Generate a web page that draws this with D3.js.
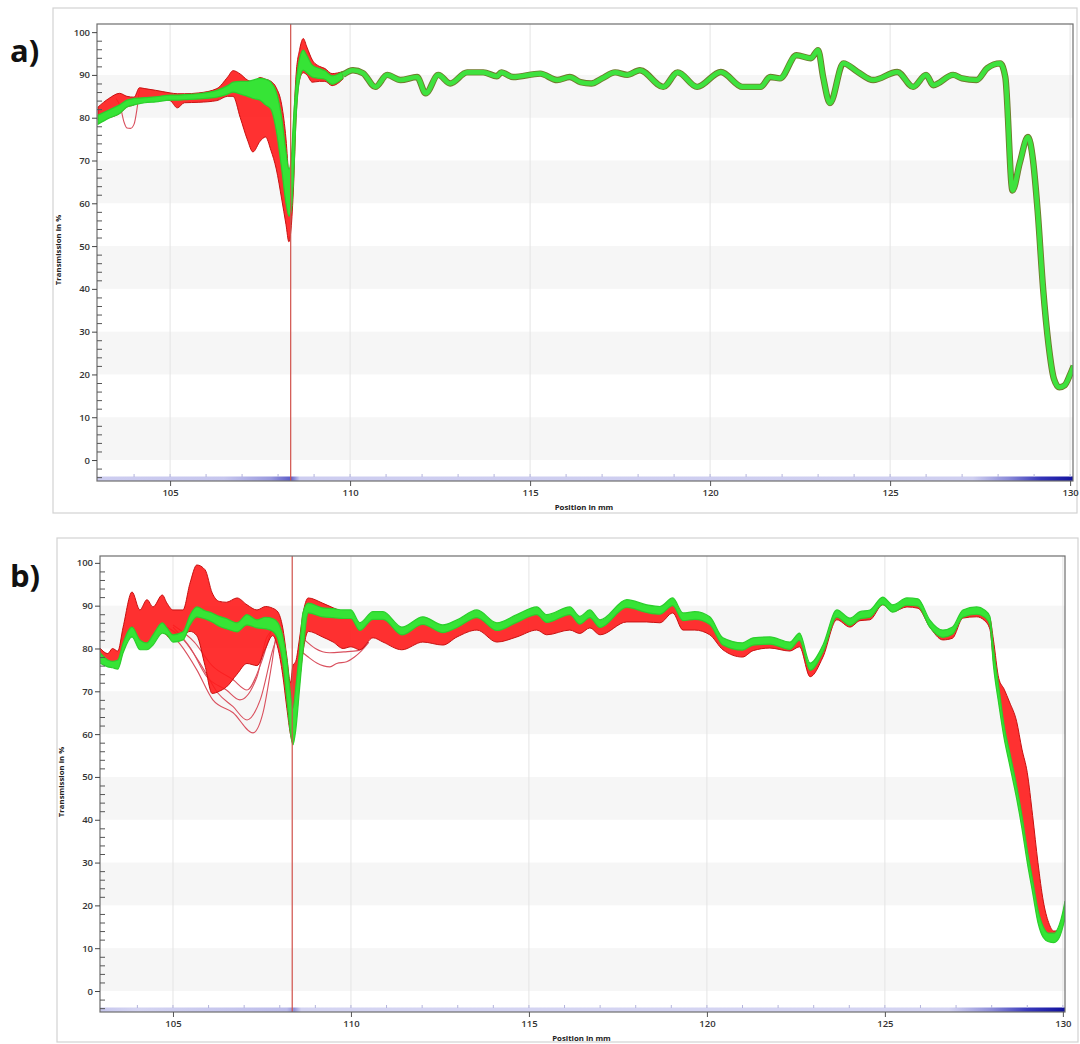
<!DOCTYPE html>
<html>
<head>
<meta charset="utf-8">
<script src="https://cdn.jsdelivr.net/npm/d3@7"></script>
<style>
body { margin: 0; background: #fff; }
text { font-family: "Open Sans", sans-serif; }
</style>
</head>
<body>
<svg id="chart" width="1080" height="1044"></svg>
<script>
// ---------- panel a) : bundle region left of 109.8 mm ----------
const posA      = [103.0, 103.3, 103.6, 103.8, 104.0, 104.15, 104.3, 104.6, 105.0, 105.2, 105.4, 105.8, 106.3, 106.6, 106.75, 106.95, 107.15, 107.3, 107.5, 107.65, 107.8, 107.95, 108.1, 108.22, 108.3, 108.36, 108.43, 108.5, 108.6, 108.7, 108.8, 108.95, 109.15, 109.3, 109.5, 109.8]
const redTopA   = [82.5, 84.5, 85.7, 85.0, 84.8, 87.0, 86.8, 86.4, 85.8, 85.6, 85.6, 85.8, 86.8, 89.5, 91.0, 90.2, 88.8, 88.4, 89.4, 89.0, 88.5, 87.0, 83.0, 75.0, 66.0, 62.0, 78.0, 90.0, 96.0, 98.5, 96.5, 93.5, 92.0, 91.5, 90.3, 90.8]
const redBotA   = [79.5, 80.0, 81.0, 82.5, 83.0, 84.0, 84.3, 84.4, 84.0, 82.3, 83.5, 83.6, 84.0, 85.0, 85.0, 80.0, 74.8, 72.0, 74.5, 75.5, 72.4, 68.0, 61.0, 55.0, 51.0, 54.0, 64.0, 80.0, 89.0, 90.5, 90.0, 88.3, 88.5, 88.5, 87.5, 89.0]
const greenTopA = [80.6, 81.8, 83.0, 84.1, 84.5, 84.6, 84.7, 84.9, 85.3, 85.3, 85.4, 85.6, 86.4, 87.5, 88.3, 88.5, 88.5, 88.8, 89.2, 89.0, 88.3, 86.0, 80.0, 72.0, 68.0, 70.0, 80.0, 88.0, 94.0, 95.8, 94.5, 92.3, 91.5, 91.0, 89.8, 90.8]
const greenBotA = [78.5, 79.9, 81.0, 82.5, 83.0, 83.3, 83.5, 83.7, 84.1, 84.1, 84.2, 84.4, 84.8, 85.5, 86.0, 85.5, 85.0, 84.5, 84.1, 83.0, 82.0, 77.0, 68.0, 60.0, 57.0, 58.0, 66.0, 80.0, 89.0, 91.1, 90.5, 89.5, 89.2, 89.0, 87.8, 89.2]

// panel a) : single narrow trace right of 109.8 mm
const traceAPos = [109.8, 110.08, 110.36, 110.7, 111.03, 111.4, 111.86, 112.1, 112.45, 112.78, 113.25, 113.7, 114.08, 114.2, 114.53, 115.28, 115.75, 116.1, 116.4, 116.7, 117.0, 117.36, 117.7, 118.05, 118.7, 119.1, 119.64, 120.3, 120.9, 121.4, 121.67, 121.94, 122.4, 122.8, 123.0, 123.14, 123.33, 123.7, 124.1, 124.53, 125.2, 125.64, 126.0, 126.2, 126.75, 127.0, 127.4, 127.7, 128.06, 128.2, 128.4, 128.6, 128.83, 128.97, 129.1, 129.25, 129.4, 129.55, 129.7, 129.85, 130.0, 130.1]
const traceA    = [90.0, 91.1, 90.4, 87.2, 90.0, 88.8, 89.5, 85.7, 90.0, 88.0, 90.6, 90.6, 89.7, 90.6, 89.5, 90.3, 88.8, 89.5, 88.3, 88.0, 89.2, 90.6, 90.0, 91.1, 87.2, 90.6, 87.2, 90.7, 87.2, 87.2, 89.5, 89.2, 94.6, 93.9, 95.8, 89.5, 83.4, 92.7, 90.7, 88.8, 90.7, 87.2, 90.0, 87.6, 90.0, 89.2, 88.8, 91.6, 92.7, 89.5, 63.0, 69.4, 75.5, 70.0, 58.0, 40.0, 27.0, 19.0, 17.0, 17.5, 20.0, 22.0]

// panel a) : single red outlier loop
const outlierAPos = [103.5, 103.62, 103.72, 103.8, 103.9, 104.0, 104.08, 104.15]
const outlierA    = [84.5, 82.5, 79.0, 77.6, 77.5, 78.5, 82.0, 86.5]

// ---------- panel b) ----------
const posB      = [102.95, 103.17, 103.3, 103.45, 103.6, 103.85, 104.07, 104.27, 104.44, 104.7, 104.83, 105.0, 105.28, 105.48, 105.67, 105.9, 106.1, 106.3, 106.5, 106.8, 107.08, 107.36, 107.6, 107.8, 107.95, 108.08, 108.2, 108.3, 108.37, 108.45, 108.55, 108.65, 108.8, 109.2, 109.5, 109.78, 110.0, 110.25, 110.62, 110.9, 111.43, 112.02, 112.58, 112.98, 113.54, 114.1, 114.66, 115.22, 115.5, 116.15, 116.43, 116.71, 117.0, 117.75, 118.31, 118.68, 119.04, 119.33, 119.66, 120.08, 120.45, 121.0, 121.3, 121.77, 122.33, 122.6, 122.9, 123.26, 123.65, 124.02, 124.3, 124.58, 124.94, 125.22, 125.62, 125.93, 126.26, 126.63, 126.9, 127.19, 127.58, 127.8, 127.95, 128.05, 128.2, 128.35, 128.5, 128.7, 128.85, 129.0, 129.15, 129.3, 129.45, 129.6, 129.75, 129.9, 130.0, 130.06]
const redTopB   = [80.1, 78.8, 80.0, 79.4, 85.0, 93.2, 89.0, 91.4, 89.7, 92.5, 90.6, 89.0, 89.0, 95.3, 99.5, 98.4, 93.0, 91.0, 90.8, 91.8, 90.2, 89.0, 89.8, 89.4, 88.5, 85.0, 78.0, 72.0, 76.0, 77.0, 82.0, 88.0, 91.8, 90.6, 89.5, 88.5, 87.5, 85.0, 87.5, 87.5, 84.0, 86.4, 84.5, 85.7, 88.0, 85.0, 86.9, 88.7, 86.9, 88.7, 86.5, 88.0, 85.7, 90.4, 89.2, 88.8, 90.8, 87.3, 87.6, 86.4, 81.5, 80.3, 81.5, 81.7, 80.5, 82.6, 75.6, 79.8, 88.0, 86.1, 87.6, 88.0, 91.0, 89.2, 90.8, 90.6, 85.7, 83.3, 84.0, 88.0, 88.7, 88.0, 87.0, 82.0, 73.0, 70.5, 67.5, 63.0, 56.5, 51.0, 41.0, 30.0, 21.0, 16.0, 14.0, 14.5, 16.0, 18.0]
const redBotB   = [77.0, 76.5, 76.5, 76.0, 79.5, 85.0, 81.5, 81.0, 81.5, 84.0, 83.0, 82.0, 83.0, 84.0, 83.0, 76.0, 69.5, 70.0, 71.0, 74.0, 76.5, 76.0, 80.0, 83.0, 80.0, 74.0, 66.0, 60.0, 58.0, 66.0, 72.0, 79.0, 84.0, 82.7, 81.5, 80.0, 80.4, 79.7, 82.5, 81.5, 79.7, 81.5, 80.8, 82.7, 84.3, 81.5, 82.7, 84.3, 83.2, 84.3, 83.5, 84.8, 83.2, 86.2, 86.2, 86.0, 88.3, 84.3, 84.3, 83.2, 79.7, 78.0, 79.5, 80.1, 79.4, 80.4, 73.4, 78.0, 86.7, 85.0, 86.5, 86.7, 90.2, 88.6, 89.7, 89.4, 85.0, 82.0, 82.4, 87.1, 87.4, 86.5, 84.5, 77.0, 68.0, 60.0, 54.0, 46.0, 39.0, 31.0, 24.0, 17.0, 13.5, 12.5, 12.3, 13.5, 15.5, 17.0]
const greenTopB = [79.0, 77.3, 77.0, 77.3, 81.3, 85.0, 82.0, 81.3, 83.2, 86.0, 84.8, 83.2, 83.9, 87.8, 89.7, 88.8, 88.3, 87.5, 87.0, 86.0, 87.9, 86.7, 87.3, 87.0, 86.0, 83.0, 77.3, 69.6, 66.0, 71.0, 79.0, 88.3, 90.6, 89.5, 89.3, 89.0, 89.0, 86.0, 88.6, 88.6, 85.0, 87.4, 85.5, 86.7, 89.0, 86.0, 87.9, 89.7, 87.9, 89.7, 87.5, 89.0, 86.7, 91.4, 90.2, 89.8, 91.8, 88.3, 88.6, 87.4, 82.5, 81.3, 82.5, 82.7, 81.5, 83.6, 76.6, 80.8, 89.0, 87.1, 88.6, 89.0, 92.0, 90.2, 91.8, 91.6, 86.7, 84.3, 85.0, 89.0, 89.7, 89.0, 87.5, 80.0, 71.0, 62.0, 56.0, 48.0, 41.0, 33.0, 26.0, 19.0, 15.0, 13.5, 13.5, 15.5, 18.5, 21.0]
const greenBotB = [76.6, 75.7, 75.5, 75.2, 79.0, 82.7, 79.7, 79.7, 80.8, 83.6, 83.2, 81.5, 82.0, 85.5, 87.4, 86.9, 86.2, 85.2, 84.6, 83.9, 85.5, 84.8, 84.6, 84.0, 82.0, 77.0, 68.0, 60.3, 57.5, 61.0, 70.0, 79.0, 88.3, 87.4, 87.2, 87.0, 87.0, 84.2, 86.8, 86.8, 83.2, 85.6, 83.7, 84.9, 87.2, 84.2, 86.1, 87.9, 86.1, 87.9, 85.7, 87.2, 84.9, 89.6, 88.4, 88.0, 90.0, 86.5, 86.8, 85.6, 80.8, 79.6, 80.8, 81.0, 79.8, 81.9, 74.9, 79.1, 87.3, 85.4, 86.9, 87.3, 90.3, 88.5, 90.1, 89.9, 85.0, 82.6, 83.3, 87.3, 88.0, 87.3, 85.5, 76.0, 67.0, 59.0, 53.0, 45.0, 38.0, 30.0, 23.0, 16.0, 12.5, 11.5, 11.3, 12.5, 15.0, 17.0]

// panel b) : thin outlier curves below the bundle
const outlierB1Pos = [104.83, 105.2, 105.67, 106.12, 106.69, 107.25, 107.53, 107.78, 107.92, 108.05]
const outlierB1    = [84.3, 81.0, 75.0, 68.0, 65.0, 60.3, 65.0, 76.6, 83.6, 84.5]
const outlierB2Pos = [104.83, 105.3, 105.8, 106.26, 106.69, 107.08, 107.45, 107.83, 108.0]
const outlierB2    = [85.0, 82.0, 76.0, 69.6, 66.4, 63.3, 68.0, 80.4, 84.0]
const outlierB3Pos = [105.0, 105.5, 105.95, 106.5, 106.88, 107.36, 107.64, 107.95]
const outlierB3    = [85.0, 80.0, 73.4, 70.3, 68.0, 73.4, 82.7, 85.0]
const outlierB4Pos = [105.0, 105.6, 106.1, 106.69, 107.08, 107.45, 107.75]
const outlierB4    = [85.5, 81.5, 76.0, 72.7, 70.3, 76.0, 84.0]
const outlierB5Pos = [108.65, 108.8, 109.04, 109.41, 109.6, 109.88, 110.1, 110.3, 110.5]
const outlierB5    = [79.0, 78.0, 76.6, 75.7, 76.5, 76.9, 78.0, 79.5, 81.5]
const outlierB6Pos = [108.7, 109.0, 109.4, 109.8, 110.2, 110.5]
const outlierB6    = [82.0, 80.0, 79.0, 79.2, 79.5, 81.5]

// axes
const xTicks = [105, 110, 115, 120, 125, 130]
const yTicks = [0, 10, 20, 30, 40, 50, 60, 70, 80, 90, 100]
const grayBands = [0, 20, 40, 60, 80]
const cursorPos = 108.35

// colour strip under each plot (position in mm, colour)
const stripA = [[103, '#cdcdf0'], [106.5, '#c6c6ee'], [107.8, '#9a9ade'], [108.35, '#5c5cc8'], [108.6, '#cdcdf0'], [127.3, '#cfcff0'], [128.3, '#8a8ad8'], [129.2, '#3434b8'], [130.1, '#12129e']]
const stripB = [[103, '#c8c8ee'], [104, '#d4d4f2'], [108.2, '#bcbcea'], [108.4, '#9090d8'], [108.6, '#d4d4f2'], [126.8, '#d4d4f2'], [128, '#8e8ed8'], [129, '#3a3abc'], [130.1, '#10109c']]

const svg = d3.select('#chart')

const panels = [
	{
		id: 'a', label: 'a)', labelY: 62,
		frame: [53, 8, 1077, 513], plot: [97, 24, 1073, 481],
		xDom: [102.97, 130.08], yDom: [-4.9, 101.9],
		pos: posA, redTop: redTopA, redBot: redBotA, greenTop: greenTopA, greenBot: greenBotA,
		trace: d3.zip(traceAPos, traceA),
		outliers: [d3.zip(outlierAPos, outlierA)],
		strip: stripA, yTitle: 250
	},
	{
		id: 'b', label: 'b)', labelY: 587,
		frame: [57, 538, 1078, 1042], plot: [100, 556, 1065, 1012],
		xDom: [102.95, 130.06], yDom: [-4.9, 101.6],
		pos: posB, redTop: redTopB, redBot: redBotB, greenTop: greenTopB, greenBot: greenBotB,
		trace: null,
		outliers: [
			d3.zip(outlierB1Pos, outlierB1), d3.zip(outlierB2Pos, outlierB2), d3.zip(outlierB3Pos, outlierB3),
			d3.zip(outlierB4Pos, outlierB4), d3.zip(outlierB5Pos, outlierB5), d3.zip(outlierB6Pos, outlierB6)
		],
		strip: stripB, yTitle: 782
	}
]

panels.forEach(p => {
	const [L, T, R, B] = p.plot
	const x = d3.scaleLinear().domain(p.xDom).range([L, R])
	const y = d3.scaleLinear().domain(p.yDom).range([B, T])
	const g = svg.append('g')

	// outer frame
	g.append('rect')
		.attr('x', p.frame[0]).attr('y', p.frame[1])
		.attr('width', p.frame[2] - p.frame[0]).attr('height', p.frame[3] - p.frame[1])
		.attr('fill', 'none').attr('stroke', '#d2d2d2').attr('stroke-width', 1.2)

	// panel letter
	g.append('text')
		.attr('x', 10).attr('y', p.labelY)
		.attr('font-family', '"Liberation Sans", Arial, sans-serif')
		.attr('font-weight', 'bold').attr('font-size', 31)
		.attr('fill', '#111')
		.text(p.label)

	// alternating bands
	g.selectAll('rect.band')
		.data(grayBands)
		.enter()
		.append('rect')
		.attr('class', 'band')
		.attr('x', L).attr('width', R - L)
		.attr('y', d => y(d + 10))
		.attr('height', d => y(d) - y(d + 10))
		.attr('fill', '#f6f6f6')

	// vertical grid
	g.selectAll('line.vgrid')
		.data(xTicks)
		.enter()
		.append('line')
		.attr('class', 'vgrid')
		.attr('x1', d => x(d)).attr('x2', d => x(d))
		.attr('y1', T).attr('y2', B)
		.attr('stroke', '#e4e4e4').attr('stroke-width', 1)

	const clipId = 'clip-' + p.id
	g.append('clipPath').attr('id', clipId)
		.append('rect').attr('x', L).attr('y', T).attr('width', R - L).attr('height', B - T)
	const plot = g.append('g').attr('clip-path', `url(#${clipId})`)

	// outlier curves
	const line = d3.line().x(d => x(d[0])).y(d => y(d[1])).curve(d3.curveMonotoneX)
	plot.selectAll('path.outlier')
		.data(p.outliers)
		.enter()
		.append('path')
		.attr('class', 'outlier')
		.attr('d', line)
		.attr('fill', 'none')
		.attr('stroke', '#d9505e')
		.attr('stroke-width', 1.1)

	const rows = p.pos.map((v, i) => ({
		pos: v, rt: p.redTop[i], rb: p.redBot[i], gt: p.greenTop[i], gb: p.greenBot[i]
	}))

	// red bundle
	const redArea = d3.area()
		.x(d => x(d.pos)).y0(d => y(d.rb)).y1(d => y(d.rt))
		.curve(d3.curveMonotoneX)
	plot.append('path')
		.datum(rows)
		.attr('d', redArea)
		.attr('fill', '#ff1b1b').attr('fill-opacity', 0.9)
		.attr('stroke', '#c81010').attr('stroke-width', 1)

	// green bundle
	const greenArea = d3.area()
		.x(d => x(d.pos)).y0(d => y(d.gb)).y1(d => y(d.gt))
		.curve(d3.curveMonotoneX)
	plot.append('path')
		.datum(rows)
		.attr('d', greenArea)
		.attr('fill', '#36e436')
		.attr('stroke', '#2ccf2c').attr('stroke-width', 1.2)

	// narrow trace (panel a right part)
	if (p.trace) {
		plot.append('path')
			.datum(p.trace)
			.attr('d', line)
			.attr('fill', 'none')
			.attr('stroke', '#6f7a2c').attr('stroke-width', 6.4)
			.attr('stroke-linejoin', 'round')
		plot.append('path')
			.datum(p.trace)
			.attr('d', line)
			.attr('fill', 'none')
			.attr('stroke', '#3ee23e').attr('stroke-width', 4.6)
			.attr('stroke-linejoin', 'round')
	}

	// colour strip along the bottom
	const gradId = 'grad-' + p.id
	const grad = g.append('linearGradient').attr('id', gradId)
		.attr('gradientUnits', 'userSpaceOnUse')
		.attr('x1', L).attr('x2', R).attr('y1', 0).attr('y2', 0)
	grad.selectAll('stop')
		.data(p.strip)
		.enter()
		.append('stop')
		.attr('offset', d => (x(d[0]) - L) / (R - L))
		.attr('stop-color', d => d[1])
	g.append('rect')
		.attr('x', L).attr('y', B - 4.5).attr('width', R - L).attr('height', 4.5)
		.attr('fill', `url(#${gradId})`)

	// minor marks on the strip
	g.selectAll('line.xminor')
		.data(d3.range(104, 131, 1))
		.enter()
		.append('line')
		.attr('class', 'xminor')
		.attr('x1', d => x(d)).attr('x2', d => x(d))
		.attr('y1', B - 7).attr('y2', B - 4)
		.attr('stroke', '#b4b4dc').attr('stroke-width', 1)

	// cursor
	g.append('line')
		.attr('x1', x(cursorPos)).attr('x2', x(cursorPos))
		.attr('y1', T).attr('y2', B)
		.attr('stroke', '#d0504a').attr('stroke-width', 1.2)

	// plot border
	g.append('rect')
		.attr('x', L).attr('y', T).attr('width', R - L).attr('height', B - T)
		.attr('fill', 'none').attr('stroke', '#6e6e6e').attr('stroke-width', 1.2)

	// y axis
	const yAxis = g.append('g')
		.attr('transform', `translate(${L},0)`)
		.call(d3.axisLeft(y).tickValues(yTicks).tickSize(5).tickPadding(2))
	yAxis.select('.domain').remove()
	yAxis.selectAll('text')
		.attr('font-size', 9.5).attr('font-weight', 600).attr('fill', '#333')
	yAxis.selectAll('line').attr('stroke', '#444')
	const yMinor = g.append('g')
		.attr('transform', `translate(${L},0)`)
		.call(d3.axisRight(y).tickValues(d3.range(-4, 101, 2).filter(v => v % 10 !== 0)).tickSize(5).tickFormat(''))
	yMinor.select('.domain').remove()
	yMinor.selectAll('line').attr('stroke', '#555')

	// x axis
	const xAxis = g.append('g')
		.attr('transform', `translate(0,${B})`)
		.call(d3.axisBottom(x).tickValues(xTicks).tickSize(5).tickPadding(3))
	xAxis.select('.domain').remove()
	xAxis.selectAll('text')
		.attr('font-size', 9.5).attr('font-weight', 600).attr('fill', '#333')
	xAxis.selectAll('line').attr('stroke', '#555')

	// axis titles
	g.append('text')
		.attr('x', (L + R) / 2 - 1).attr('y', B + 29)
		.attr('text-anchor', 'middle')
		.attr('font-size', 7.8).attr('font-weight', 700).attr('fill', '#222')
		.text('Position in mm')
	g.append('text')
		.attr('transform', `translate(${L - 36},${p.yTitle}) rotate(-90)`)
		.attr('text-anchor', 'middle')
		.attr('font-size', 7.8).attr('font-weight', 700).attr('fill', '#222')
		.text('Transmission in %')
})
</script>
</body>
</html>
